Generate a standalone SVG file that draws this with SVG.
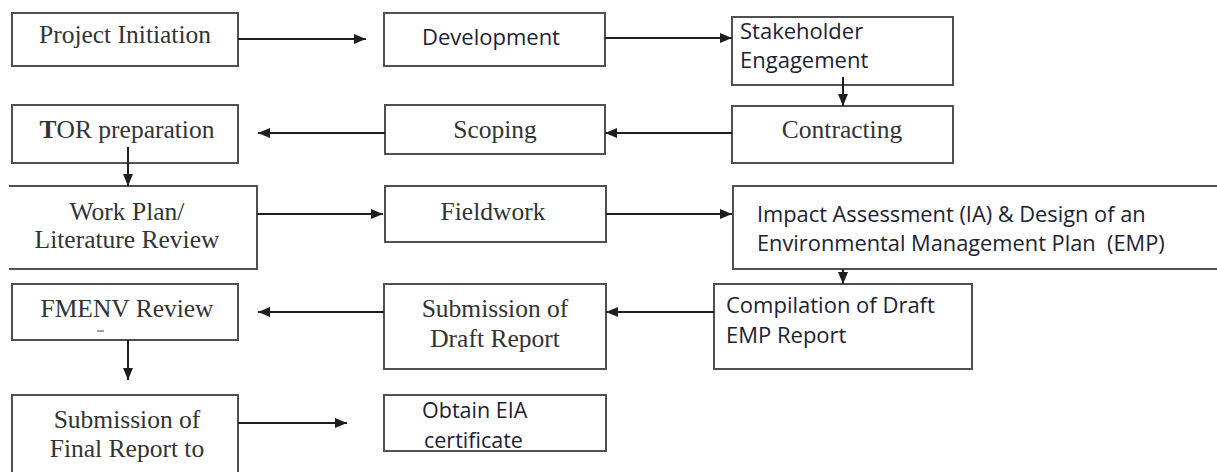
<svg xmlns="http://www.w3.org/2000/svg" width="1217" height="472" viewBox="0 0 1217 472">
<defs>
<marker id="ah" markerUnits="userSpaceOnUse" markerWidth="12" markerHeight="10" refX="12" refY="5" orient="auto">
<path d="M0,0 L12,5 L0,10 Z" fill="#1e1e1e"/>
</marker>
<style>
.box{fill:#fff;stroke:#505050;stroke-width:2}
.open{fill:none;stroke:#505050;stroke-width:2}
.serif{font-family:"Liberation Serif","Times New Roman",serif;font-size:25.5px;fill:#333}
.sans{font-family:"Open Sans","Noto Sans",sans-serif;font-size:22px;fill:#1c2233}
.mid{text-anchor:middle}
.conn line{stroke:#1e1e1e;stroke-width:2;marker-end:url(#ah)}
</style>
</defs>
<rect width="1217" height="472" fill="#fff"/>

<g id="n-project-initiation">
<rect class="box" x="12" y="13" width="226" height="53"/>
<text class="serif mid" x="125" y="43">Project Initiation</text>
</g>
<g id="n-development">
<rect class="box" x="384" y="13" width="221" height="53"/>
<text class="sans" x="422" y="45">Development</text>
</g>
<g id="n-stakeholder">
<rect class="box" x="732" y="17" width="221" height="68"/>
<text class="sans" x="740" y="39">Stakeholder</text>
<text class="sans" x="740" y="68">Engagement</text>
</g>
<g id="n-contracting">
<rect class="box" x="732" y="106" width="221" height="57"/>
<text class="serif mid" x="842" y="138">Contracting</text>
</g>
<g id="n-scoping">
<rect class="box" x="385" y="105" width="220" height="49"/>
<text class="serif mid" x="495" y="138">Scoping</text>
</g>
<g id="n-tor">
<rect class="box" x="12" y="105" width="226" height="58"/>
<text class="serif mid" x="127" y="138"><tspan font-weight="bold">T</tspan>OR preparation</text>
</g>
<g id="n-workplan">
<path class="open" d="M9,186 H257 V269 H9"/>
<text class="serif mid" x="127" y="220">Work Plan/</text>
<text class="serif mid" x="127" y="248">Literature Review</text>
</g>
<g id="n-fieldwork">
<rect class="box" x="385" y="186" width="221" height="56"/>
<text class="serif mid" x="493" y="220">Fieldwork</text>
</g>
<g id="n-impact">
<path class="open" d="M1218,186 H733 V269 H1218"/>
<text class="sans" x="757" y="222" style="font-size:21.8px">Impact Assessment (IA) &amp; Design of an</text>
<text class="sans" x="757" y="251" style="font-size:21.8px" xml:space="preserve">Environmental Management Plan  (EMP)</text>
</g>
<g id="n-compilation">
<rect class="box" x="714" y="284" width="258" height="85"/>
<text class="sans" x="726" y="313">Compilation of Draft</text>
<text class="sans" x="726" y="343">EMP Report</text>
</g>
<g id="n-draft">
<rect class="box" x="384" y="284" width="222" height="85"/>
<text class="serif mid" x="495" y="317">Submission of</text>
<text class="serif mid" x="495" y="347">Draft Report</text>
</g>
<g id="n-fmenv">
<rect class="box" x="12" y="284" width="226" height="56"/>
<text class="serif mid" x="127" y="317">FMENV Review</text>
<line x1="97" y1="331" x2="104" y2="331" stroke="#444" stroke-width="1"/>
</g>
<g id="n-final">
<path class="open" d="M12,473 V395 H238 V473"/>
<text class="serif mid" x="127" y="428">Submission of</text>
<text class="serif mid" x="127" y="457">Final Report to</text>
</g>
<g id="n-obtain">
<rect class="box" x="384" y="395" width="222" height="56"/>
<text class="sans" x="422" y="418" style="font-size:21.5px">Obtain EIA</text>
<text class="sans" x="424" y="448" style="font-size:21.5px">certificate</text>
</g>

<g id="connectors" class="conn">
<line x1="238" y1="39" x2="366" y2="39"/>
<line x1="605" y1="38" x2="732" y2="38"/>
<line x1="843" y1="77" x2="843" y2="106"/>
<line x1="732" y1="133" x2="605" y2="133"/>
<line x1="385" y1="133" x2="258" y2="133"/>
<line x1="128" y1="147" x2="128" y2="186"/>
<line x1="257" y1="214" x2="383" y2="214"/>
<line x1="606" y1="214" x2="732" y2="214"/>
<line x1="843" y1="269" x2="843" y2="284"/>
<line x1="714" y1="312" x2="606" y2="312"/>
<line x1="384" y1="312" x2="258" y2="312"/>
<line x1="128" y1="340" x2="128" y2="380"/>
<line x1="238" y1="423" x2="347" y2="423"/>
</g>
</svg>
